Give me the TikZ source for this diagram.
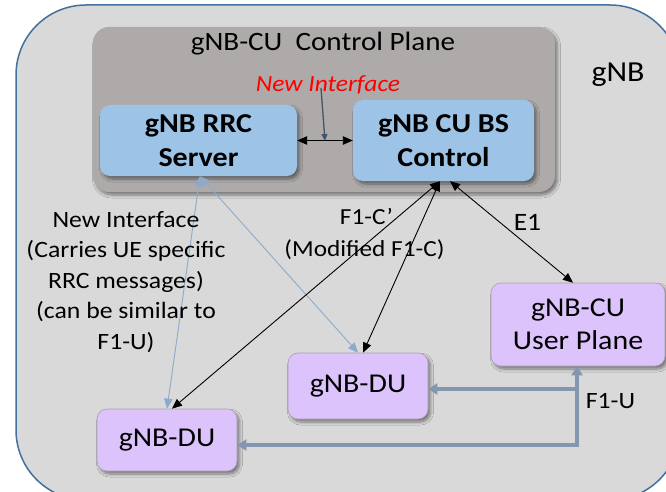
\documentclass[tikz,border=0pt]{standalone}
\usepackage{fontspec}
\setmainfont{Carlito}[FakeStretch=1.1]
\usetikzlibrary{arrows.meta,shadows.blur,calc}

\definecolor{gnbfill}{HTML}{D9D9D9}
\definecolor{gnbedge}{HTML}{41719C}
\definecolor{cpfill}{HTML}{AEAAAA}
\definecolor{ctrlblue}{HTML}{9DC3E6}
\definecolor{unitpurple}{HTML}{DCC3FC}
\definecolor{unitedge}{HTML}{A6A0B0}
\definecolor{rrcline}{HTML}{8EAACB}
\definecolor{f1ucol}{HTML}{8497B0}
\definecolor{pointcol}{HTML}{44546A}

\begin{document}
\begin{tikzpicture}[x=1pt,y=-1pt,
  softshadow/.style={blur shadow={shadow xshift=2.5pt,shadow yshift=-3pt,
      shadow blur steps=6,shadow blur radius=3pt,shadow opacity=45}},
  box/.style={rounded corners=10pt,inner sep=0pt,align=center,softshadow},
  ctrlbox/.style={box,fill=ctrlblue,font=\bfseries\fontsize{27.3}{34}\selectfont},
  unitbox/.style={box,fill=unitpurple,draw=unitedge,line width=0.6pt,
      font=\fontsize{27.2}{33}\selectfont},
  lbl/.style={inner sep=0pt,font=\fontsize{23.4}{30.5}\selectfont},
  ctl/.style={draw=black,line width=0.9pt,
      {Triangle[width=8.5pt,length=10pt]}-{Triangle[width=8.5pt,length=10pt]}},
  rrcl/.style={draw=rrcline,line width=0.9pt,
      {Triangle[width=8.5pt,length=10pt]}-{Triangle[width=8.5pt,length=10pt]}},
  f1u/.style={draw=f1ucol,line width=3.5pt},
  pointer/.style={draw=pointcol,line width=1.3pt,-{Triangle[width=6pt,length=7pt]}}
]
\useasboundingbox (0,0) rectangle (666,492);

% gNB enclosure, running off the right and bottom edges
\begin{scope}
  \clip (0,0) rectangle (666,492);
  \draw[gnbedge,fill=gnbfill,line width=1.5pt,rounded corners=70pt]
    (16,5) rectangle (680,500);
\end{scope}
\node[lbl,font=\fontsize{29}{32}\selectfont] (gnb) at (618,75) {gNB};

% CU control plane container
\node[rounded corners=16pt,fill=cpfill,softshadow,inner sep=0pt,
      minimum width=462pt,minimum height=165pt] (cp) at (324,109.5) {};
\node[lbl,anchor=base,font=\fontsize{26.5}{30}\selectfont] (cptitle) at (323,51)
  {gNB-CU~ Control Plane};

% control plane functions
\node[ctrlbox,minimum width=197pt,minimum height=71pt] (rrc) at (198.5,140.5)
  {gNB RRC\\Server};
\node[ctrlbox,minimum width=181pt,minimum height=81pt] (cubs) at (443.5,140.5)
  {gNB CU BS\\Control};

% user plane and distributed units
\node[unitbox,minimum width=174pt,minimum height=83pt] (up) at (578,324.5)
  {gNB-CU\\User Plane};
\node[unitbox,minimum width=140pt,minimum height=66pt] (du1) at (358,386) {gNB-DU};
\node[unitbox,minimum width=140pt,minimum height=62pt] (du2) at (167,440) {gNB-DU};

% interface between RRC server and BS control
\draw[ctl] (rrc.east) -- (cubs.west);
\node[lbl,anchor=base,text=red,font=\itshape\fontsize{23.2}{28}\selectfont]
  (ni) at (328,92) {New Interface};
\coordinate (nitip) at (325,141);
\draw[pointer] ([xshift=-7pt,yshift=4pt]ni.base) -- (nitip);

% F1-C', E1 and RRC links
\draw[rrcl] ([xshift=1.5pt]rrc.south) -- (du2.north);
\draw[rrcl] ([xshift=1.5pt]rrc.south) -- (du1.north);
\draw[ctl] ([xshift=-3.5pt]cubs.south) -- ([xshift=5pt]du2.north);
\draw[ctl] ([xshift=-3.5pt]cubs.south) -- ([xshift=5pt]du1.north);
\draw[ctl] ([xshift=6.5pt]cubs.south) -- ([xshift=-5pt]up.north);

% F1-U user plane paths
\coordinate (f1j) at (577,445);
\coordinate (f1b) at (577,389);
\draw[f1u,{Triangle[width=11pt,length=9pt]}-{Triangle[width=11pt,length=9pt]}]
  (f1j -| du2.east) -- (f1j) -- (f1j |- up.south);
\draw[f1u,-{Triangle[width=11pt,length=9pt]}] (f1b) -- (f1b -| du1.east);

% interface labels
\node[lbl,align=center] (rrcnote) at (126,282)
  {New Interface\\(Carries UE specific\\RRC messages)\\(can be similar to\\F1-U)};
\node[lbl,anchor=base,font=\fontsize{23}{28}\selectfont] (f1c) at (366.5,224) {F1-C’};
\node[lbl,anchor=base,font=\fontsize{23}{28}\selectfont] (f1cmod) at (364.5,256)
  {(Modified F1-C)};
\node[lbl,anchor=base,font=\fontsize{25}{28}\selectfont] (e1) at (527.5,230) {E1};
\node[lbl,anchor=base] (f1ulbl) at (610.5,408) {F1-U};
\end{tikzpicture}
\end{document}
